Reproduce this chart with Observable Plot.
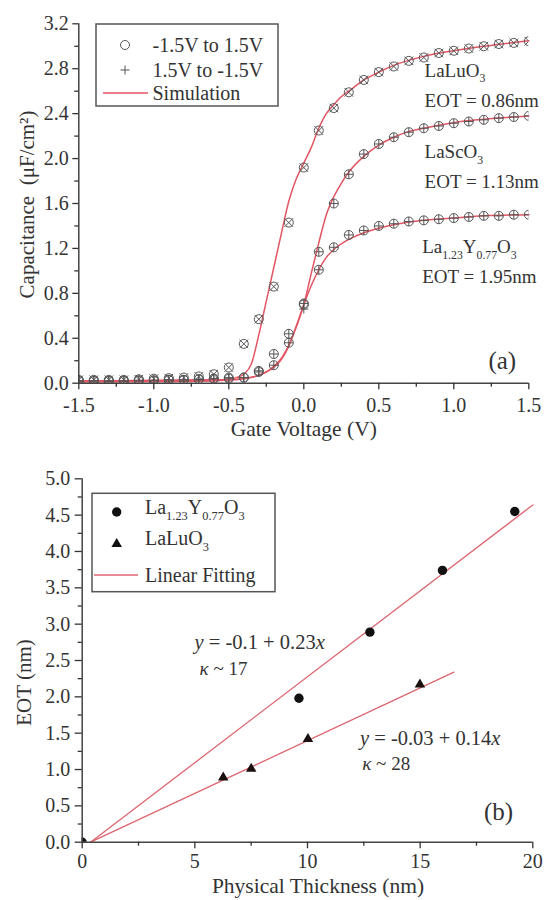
<!DOCTYPE html>
<html>
<head>
<meta charset="utf-8">
<script src="https://cdn.jsdelivr.net/npm/d3@7"></script>
<script src="https://cdn.jsdelivr.net/npm/@observablehq/plot@0.6"></script>
<style>
  html, body { margin: 0; padding: 0; background: #fff; }
  #chart { width: 548px; height: 900px; overflow: hidden; }
  #chart svg, #chart svg text { font-family: "Liberation Serif", "Times New Roman", Times, serif; }
</style>
</head>
<body>
<div id="chart"></div>
<script>
// ---------- Panel (a): C-V data ----------
const voltage = [-1.5,-1.4,-1.3,-1.2,-1.1,-1.0,-0.9,-0.8,-0.7,-0.6,-0.5,-0.4,-0.3,-0.2,-0.1,0.0,0.1,0.2,0.3,0.4,0.5,0.6,0.7,0.8,0.9,1.0,1.1,1.2,1.3,1.4,1.5];
const laluFwd = [0.03,0.03,0.03,0.03,0.035,0.04,0.045,0.05,0.06,0.08,0.14,0.35,0.57,0.86,1.43,1.92,2.25,2.45,2.59,2.70,2.77,2.82,2.87,2.90,2.94,2.96,2.98,3.00,3.02,3.03,3.045];
const laluRev = [0.03,0.03,0.03,0.03,0.035,0.04,0.045,0.05,0.06,0.08,0.14,0.35,0.57,0.86,1.43,1.92,2.25,2.45,2.59,2.70,2.77,2.82,2.87,2.90,2.94,2.96,2.98,3.00,3.02,3.03,3.045];
const lascFwd = [0.02,0.02,0.02,0.02,0.025,0.025,0.03,0.03,0.035,0.04,0.05,0.05,0.10,0.26,0.44,0.71,1.17,1.60,1.86,2.04,2.13,2.19,2.235,2.27,2.29,2.315,2.33,2.345,2.36,2.37,2.38];
const lascRev = [0.02,0.02,0.02,0.02,0.025,0.025,0.03,0.03,0.035,0.04,0.05,0.05,0.10,0.26,0.44,0.71,1.17,1.60,1.86,2.04,2.13,2.19,2.235,2.27,2.29,2.315,2.33,2.345,2.36,2.37,2.38];
const layFwd = [0.02,0.02,0.02,0.02,0.025,0.025,0.03,0.03,0.035,0.04,0.04,0.05,0.11,0.16,0.36,0.70,1.01,1.21,1.32,1.36,1.40,1.42,1.44,1.45,1.46,1.47,1.48,1.49,1.49,1.50,1.50];
const layRev = [0.02,0.02,0.02,0.02,0.025,0.025,0.03,0.03,0.035,0.04,0.04,0.05,0.11,0.16,0.36,0.66,1.01,1.21,1.32,1.36,1.40,1.42,1.44,1.45,1.46,1.47,1.48,1.49,1.49,1.50,1.50];

const simLaluV = [-1.5,-1.0,-0.6,-0.5,-0.45,-0.4,-0.35,-0.3,-0.25,-0.2,-0.15,-0.1,-0.05,0.0,0.05,0.1,0.15,0.2,0.25,0.3,0.4,0.5,0.6,0.8,1.0,1.2,1.5];
const simLaluC = [0.01,0.015,0.02,0.03,0.05,0.08,0.17,0.43,0.73,1.03,1.33,1.62,1.82,1.96,2.10,2.27,2.40,2.48,2.55,2.60,2.70,2.77,2.83,2.91,2.96,3.00,3.05];
const simLascV = [-1.5,-1.0,-0.5,-0.4,-0.3,-0.25,-0.2,-0.15,-0.1,-0.05,0.0,0.05,0.1,0.15,0.2,0.25,0.3,0.4,0.5,0.6,0.7,0.8,1.0,1.2,1.5];
const simLascC = [0.02,0.025,0.03,0.04,0.07,0.10,0.15,0.22,0.34,0.50,0.70,0.98,1.25,1.50,1.66,1.78,1.88,2.02,2.12,2.19,2.24,2.27,2.32,2.35,2.38];
const simLayV = [-1.5,-1.0,-0.5,-0.4,-0.3,-0.25,-0.2,-0.15,-0.1,-0.05,0.0,0.05,0.1,0.15,0.2,0.3,0.4,0.5,0.6,0.8,1.0,1.2,1.5];
const simLayC = [0.02,0.025,0.03,0.04,0.07,0.10,0.14,0.21,0.33,0.51,0.70,0.87,1.01,1.12,1.19,1.28,1.34,1.38,1.41,1.45,1.47,1.49,1.50];

const xTicksA = [-1.5,-1.0,-0.5,0.0,0.5,1.0,1.5];
const xMinorA = [-1.25,-0.75,-0.25,0.25,0.75,1.25];
const yTicksA = [0.0,0.4,0.8,1.2,1.6,2.0,2.4,2.8,3.2];
const yMinorA = [0.2,0.6,1.0,1.4,1.8,2.2,2.6,3.0];

// ---------- Panel (b): EOT vs thickness ----------
const layThick = [0, 9.62, 12.77, 15.99, 19.2];
const layEOT   = [0, 1.98, 2.89, 3.74, 4.55];
const laluThick = [0, 6.26, 7.5, 10.02, 14.99];
const laluEOT   = [0, 0.89, 1.01, 1.42, 2.17];
const fitLayX = [0.37, 20.0];
const fitLayY = [0, 4.64];
const fitLaluX = [0.37, 16.5];
const fitLaluY = [0, 2.34];

const xTicksB = [0,5,10,15,20];
const xMinorB = [2.5,7.5,12.5,17.5];
const yTicksB = [0.0,0.5,1.0,1.5,2.0,2.5,3.0,3.5,4.0,4.5,5.0];
const yMinorB = [0.25,0.75,1.25,1.75,2.25,2.75,3.25,3.75,4.25,4.75];

// ---------- styling ----------
const SERIF = "Liberation Serif, Times New Roman, Times, serif";
const baseStyle = {fontFamily: SERIF, fontSize: "20px", color: "#333", background: "#fff", overflow: "visible"};
const RED_SIM = "#e25563";
const RED_FIT = "#dc6670";
const MARK = "#555";
const fmt1 = d => d.toFixed(1);
const zip = (xs, ys) => xs.map((x, i) => ({x, y: ys[i]}));
const T = {fontFamily: SERIF};

// rich-text: _{sub}, ^{sup}, *italic*
function richText(textEl) {
  const s = textEl.textContent;
  if (!/[_^*]/.test(s)) return;
  const sel = d3.select(textEl);
  sel.text("");
  let shift = 0;
  for (const part of s.split(/(_\{[^}]*\}|\^\{[^}]*\}|\*[^*]*\*)/)) {
    if (!part) continue;
    let t = part, fs = null, target = 0, it = false;
    if (part.startsWith("_{")) { t = part.slice(2, -1); fs = "0.62em"; target = 6; }
    else if (part.startsWith("^{")) { t = part.slice(2, -1); fs = "0.62em"; target = -8; }
    else if (part.startsWith("*")) { t = part.slice(1, -1); it = true; }
    const ts = sel.append("tspan").text(t).attr("dy", target - shift);
    shift = target;
    if (fs) ts.attr("font-size", fs);
    if (it) ts.attr("font-style", "italic");
  }
}
function richAll(svg) {
  d3.select(svg).selectAll("text").each(function() { richText(this); });
}

// ---------- Panel (a) ----------
const plotA = Plot.plot({
  width: 548, height: 440,
  marginLeft: 78.3, marginRight: 19.7, marginTop: 23.3, marginBottom: 57.3,
  style: baseStyle,
  x: {domain: [-1.5, 1.5]},
  y: {domain: [0, 3.2]},
  marks: [
    Plot.line(zip(simLaluV, simLaluC), {x: "x", y: "y", stroke: RED_SIM, strokeWidth: 1.5, curve: "monotone-x"}),
    Plot.line(zip(simLascV, simLascC), {x: "x", y: "y", stroke: RED_SIM, strokeWidth: 1.5, curve: "monotone-x"}),
    Plot.line(zip(simLayV, simLayC), {x: "x", y: "y", stroke: RED_SIM, strokeWidth: 1.5, curve: "monotone-x"}),
    Plot.dot(zip(voltage, laluFwd), {x: "x", y: "y", r: 4.5, stroke: MARK, fill: "none", strokeWidth: 1, clip: true}),
    Plot.dot(zip(voltage, laluRev), {x: "x", y: "y", r: 4, symbol: "times", stroke: MARK, strokeWidth: 1, clip: true}),
    Plot.dot(zip(voltage, lascFwd), {x: "x", y: "y", r: 4.5, stroke: MARK, fill: "none", strokeWidth: 1, clip: true}),
    Plot.dot(zip(voltage, lascRev), {x: "x", y: "y", r: 3, symbol: "plus", stroke: MARK, strokeWidth: 1, clip: true}),
    Plot.dot(zip(voltage, layFwd), {x: "x", y: "y", r: 4.5, stroke: MARK, fill: "none", strokeWidth: 1, clip: true}),
    Plot.dot(zip(voltage, layRev), {x: "x", y: "y", r: 3, symbol: "plus", stroke: MARK, strokeWidth: 1, clip: true}),
    Plot.ruleX([-1.5], {stroke: "#444", strokeWidth: 1.5}),
    Plot.ruleY([0], {stroke: "#444", strokeWidth: 1.5}),
    Plot.axisX({ticks: xTicksA, tickSize: 6.5, tickPadding: 8, tickFormat: fmt1, label: null, strokeWidth: 1.3, fontSize: 20, ...T}),
    Plot.axisX({ticks: xMinorA, tickSize: 4, tickFormat: () => "", label: null, strokeWidth: 1.3}),
    Plot.axisY({ticks: yTicksA, tickSize: 6, tickPadding: 4, tickFormat: fmt1, label: null, strokeWidth: 1.3, fontSize: 20, ...T}),
    Plot.axisY({ticks: yMinorA, tickSize: 4, tickFormat: () => "", label: null, strokeWidth: 1.3}),
    Plot.text(["Gate Voltage (V)"], {text: d => d, frameAnchor: "bottom", textAnchor: "middle", dy: 46, lineAnchor: "middle", fontSize: 21.5, ...T}),
    Plot.text(["Capacitance\u00a0\u00a0(\u03bcF/cm\u00b2)"], {text: d => d, frameAnchor: "left", textAnchor: "middle", rotate: -90, dx: -51.5, dy: 1, lineAnchor: "middle", fontSize: 21, ...T}),
    Plot.text(["LaLuO_{3}"], {text: d => d, x: 0.805, y: 2.785, textAnchor: "start", lineAnchor: "middle", fontSize: 19, ...T}),
    Plot.text(["EOT = 0.86nm"], {text: d => d, x: 0.805, y: 2.517, textAnchor: "start", lineAnchor: "middle", fontSize: 19, ...T}),
    Plot.text(["LaScO_{3}"], {text: d => d, x: 0.805, y: 2.057, textAnchor: "start", lineAnchor: "middle", fontSize: 19, ...T}),
    Plot.text(["EOT = 1.13nm"], {text: d => d, x: 0.805, y: 1.79, textAnchor: "start", lineAnchor: "middle", fontSize: 19, ...T}),
    Plot.text(["La_{1.23}Y_{0.77}O_{3}"], {text: d => d, x: 0.789, y: 1.211, textAnchor: "start", lineAnchor: "middle", fontSize: 19, ...T}),
    Plot.text(["EOT = 1.95nm"], {text: d => d, x: 0.789, y: 0.944, textAnchor: "start", lineAnchor: "middle", fontSize: 19, ...T}),
    Plot.text(["(a)"], {text: d => d, x: 1.231, y: 0.202, textAnchor: "start", lineAnchor: "middle", fontSize: 25, ...T})
  ]
});

// legend (a)
{
  const g = d3.select(plotA).append("g").attr("class", "legend-a")
    .attr("text-anchor", "start").attr("font-family", SERIF).attr("font-size", 20);
  g.append("rect").attr("x", 96).attr("y", 24).attr("width", 182).attr("height", 82)
    .attr("fill", "#fff").attr("stroke", "#555").attr("stroke-width", 1.5);
  g.append("circle").attr("cx", 125).attr("cy", 45).attr("r", 4.5).attr("fill", "none").attr("stroke", MARK);
  g.append("path").attr("transform", "translate(125,70)")
    .attr("d", d3.symbol(d3.symbolPlus, Math.PI * 9)()).attr("fill", "none").attr("stroke", MARK);
  g.append("line").attr("x1", 103).attr("x2", 148).attr("y1", 93).attr("y2", 93)
    .attr("stroke", RED_SIM).attr("stroke-width", 1.5);
  const rows = [["-1.5V to 1.5V", 45], ["1.5V to -1.5V", 70], ["Simulation", 93]];
  for (const [t, y] of rows) {
    g.append("text").attr("x", 152.5).attr("y", y).attr("dy", "0.34em")
      .attr("text-anchor", "start").attr("fill", "#333").text(t);
  }
}
richAll(plotA);

// ---------- Panel (b) ----------
const plotB = Plot.plot({
  width: 548, height: 460,
  marginLeft: 81.7, marginRight: 15.7, marginTop: 38.3, marginBottom: 58.3,
  style: baseStyle,
  x: {domain: [0, 20]},
  y: {domain: [0, 5]},
  marks: [
    Plot.line(zip(fitLayX, fitLayY), {x: "x", y: "y", stroke: RED_FIT, strokeWidth: 1.3}),
    Plot.line(zip(fitLaluX, fitLaluY), {x: "x", y: "y", stroke: RED_FIT, strokeWidth: 1.3}),
    Plot.dot(zip(layThick, layEOT), {x: "x", y: "y", r: 4.7, fill: "#111", stroke: "none", clip: true}),
    Plot.dot(zip(laluThick, laluEOT), {x: "x", y: "y", r: 3.9, symbol: "triangle", fill: "#1a1010", stroke: "none", clip: true}),
    Plot.ruleX([0], {stroke: "#444", strokeWidth: 1.5}),
    Plot.ruleY([0], {stroke: "#444", strokeWidth: 1.5}),
    Plot.axisX({ticks: xTicksB, tickSize: 6.5, tickPadding: 5.5, tickFormat: d => String(d), label: null, strokeWidth: 1.3, fontSize: 20, ...T}),
    Plot.axisX({ticks: xMinorB, tickSize: 4, tickFormat: () => "", label: null, strokeWidth: 1.3}),
    Plot.axisY({ticks: yTicksB, tickSize: 7, tickPadding: 5, tickFormat: fmt1, label: null, strokeWidth: 1.3, fontSize: 20, ...T}),
    Plot.axisY({ticks: yMinorB, tickSize: 4, tickFormat: () => "", label: null, strokeWidth: 1.3}),
    Plot.text(["Physical Thickness (nm)"], {text: d => d, frameAnchor: "bottom", textAnchor: "middle", dx: 10.5, dy: 43.5, lineAnchor: "middle", fontSize: 21.5, ...T}),
    Plot.text(["EOT (nm)"], {text: d => d, frameAnchor: "left", textAnchor: "middle", rotate: -90, dx: -58, dy: 22, lineAnchor: "middle", fontSize: 21, ...T}),
    Plot.text(["*y* = -0.1 + 0.23*x*"], {text: d => d, x: 4.99, y: 2.748, textAnchor: "start", lineAnchor: "middle", fontSize: 20.5, ...T}),
    Plot.text(["*\u03ba* ~ 17"], {text: d => d, x: 5.21, y: 2.39, textAnchor: "start", lineAnchor: "middle", fontSize: 19, ...T}),
    Plot.text(["*y* = -0.03 + 0.14*x*"], {text: d => d, x: 12.33, y: 1.423, textAnchor: "start", lineAnchor: "middle", fontSize: 20.5, ...T}),
    Plot.text(["*\u03ba* ~ 28"], {text: d => d, x: 12.43, y: 1.079, textAnchor: "start", lineAnchor: "middle", fontSize: 19, ...T}),
    Plot.text(["(b)"], {text: d => d, x: 17.83, y: 0.413, textAnchor: "start", lineAnchor: "middle", fontSize: 25, ...T})
  ]
});

// legend (b)
{
  const g = d3.select(plotB).append("g").attr("class", "legend-b")
    .attr("text-anchor", "start").attr("font-family", SERIF).attr("font-size", 20);
  g.append("rect").attr("x", 92).attr("y", 53.3).attr("width", 183).attr("height", 98.4)
    .attr("fill", "#fff").attr("stroke", "#555").attr("stroke-width", 1.5);
  g.append("circle").attr("cx", 116.7).attr("cy", 72).attr("r", 4.7).attr("fill", "#111");
  g.append("path").attr("transform", "translate(116.7,104)")
    .attr("d", d3.symbol(d3.symbolTriangle, Math.PI * 3.9 * 3.9)()).attr("fill", "#111");
  g.append("line").attr("x1", 94).attr("x2", 138).attr("y1", 135).attr("y2", 135)
    .attr("stroke", RED_FIT).attr("stroke-width", 1.5);
  const rows = [["La_{1.23}Y_{0.77}O_{3}", 74], ["LaLuO_{3}", 105], ["Linear Fitting", 135]];
  for (const [t, y] of rows) {
    g.append("text").attr("x", 145).attr("y", y).attr("dy", "0.34em")
      .attr("text-anchor", "start").attr("fill", "#333").text(t);
  }
}
richAll(plotB);

const chart = document.getElementById("chart");
chart.appendChild(plotA);
chart.appendChild(plotB);
</script>
</body>
</html>
